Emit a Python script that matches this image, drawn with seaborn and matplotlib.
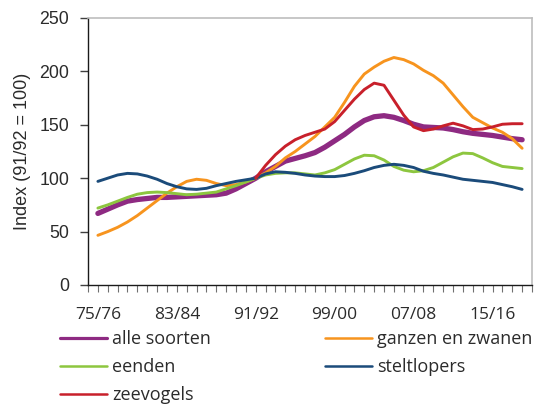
import numpy as np
import pandas as pd
import matplotlib
matplotlib.use("Agg")
import matplotlib.pyplot as plt
import seaborn as sns
from matplotlib.ticker import MultipleLocator, FixedLocator

seasons = ["75/76", "76/77", "77/78", "78/79", "79/80", "80/81", "81/82", "82/83",
           "83/84", "84/85", "85/86", "86/87", "87/88", "88/89", "89/90", "90/91",
           "91/92", "92/93", "93/94", "94/95", "95/96", "96/97", "97/98", "98/99",
           "99/00", "00/01", "01/02", "02/03", "03/04", "04/05", "05/06", "06/07",
           "07/08", "08/09", "09/10", "10/11", "11/12", "12/13", "13/14", "14/15",
           "15/16", "16/17", "17/18", "18/19"]
tick_labels = ["75/76", "83/84", "91/92", "99/00", "07/08", "15/16"]

alle_soorten = [67, 71, 75, 78.5, 80, 81, 82, 82, 82.5, 83, 83.5, 84, 84.5, 86, 90, 95, 100,
                106, 111, 116, 118.5, 121, 124, 129, 135, 141, 148, 154, 157.5, 158.5, 157,
                154, 150.5, 148, 147.5, 147, 145.5, 143.5, 142, 141, 140, 138.5, 137, 136]
ganzen_en_zwanen = [46.5, 50, 54, 59, 65, 72, 79, 86, 92, 97, 99, 98, 95, 93, 94, 96.5, 100,
                    105, 111, 119, 125, 132, 139, 148, 157, 171, 186, 197.5, 204, 209.5, 213,
                    211, 207, 201, 196, 189, 178, 167, 157, 152, 147, 143, 137, 128]
eenden = [72, 75, 78.5, 82, 85, 86.5, 87, 86.5, 85.5, 84.5, 85, 86, 87, 90, 93, 96.5, 100,
          103, 104.5, 105, 105, 104, 103, 105, 108, 113, 118, 121.5, 121, 117, 111,
          107.5, 106, 107, 110, 115, 120, 123.5, 123, 119, 114.5, 111, 110, 109]
steltlopers = [97, 100, 103, 104.5, 104, 102, 99, 95, 92, 90, 89.5, 90.5, 93, 95, 97, 98.5, 100,
               104, 106, 105.5, 104.5, 103, 102, 101.5, 101.5, 102.5, 104.5, 107, 110, 112, 113,
               112, 110, 106.5, 104.5, 103, 101, 99, 98, 97, 96, 94, 92, 89.5]
zeevogels = [np.nan] * 16 + [100,
             112, 122, 130, 136, 140, 143, 146, 153, 163.5, 174, 183, 189, 187, 173,
             159, 148, 144.5, 146, 149, 151.5, 149, 145.5, 146, 148, 150.5, 151, 151]

series_names = ["alle soorten", "ganzen en zwanen", "eenden", "steltlopers", "zeevogels"]
series_values = [alle_soorten, ganzen_en_zwanen, eenden, steltlopers, zeevogels]
colors = ["#8E2A82", "#F7941E", "#8DC63F", "#1B4B7A", "#C8202B"]
widths = [3.8, 2.1, 2.1, 2.1, 2.1]
legend_widths = [2.3, 1.8, 1.8, 1.8, 1.8]

sns.set_style("ticks")
text_color = "#2B2B2B"

fig = plt.figure(figsize=(5.39, 4.07), dpi=100)
ax = fig.add_axes([0.1633, 0.2998, 0.8237, 0.656])

idx = np.arange(len(seasons))
for name, vals, col, lw in zip(series_names, series_values, colors, widths):
    df = pd.DataFrame({"x": idx, "y": vals})
    sns.lineplot(data=df, x="x", y="y", ax=ax, color=col, linewidth=lw,
                 label=name, solid_capstyle="round")

ax.set_xlim(-1, 44)
ax.set_ylim(0, 250)
ax.yaxis.set_major_locator(MultipleLocator(50))
ax.xaxis.set_major_locator(FixedLocator([0, 8, 16, 24, 32, 40]))
ax.set_xticklabels(tick_labels)
ax.xaxis.set_minor_locator(MultipleLocator(1))
ax.set_xlabel("")
ax.set_ylabel("Index (91/92 = 100)", fontsize=13, color=text_color,
              family="Liberation Sans", labelpad=6)

for lab in ax.get_yticklabels():
    lab.set_family("Liberation Sans")
for lab in ax.get_xticklabels():
    lab.set_family("Open Sans")
ax.tick_params(axis="y", labelsize=12.8, length=6, width=1, color="#404040",
               labelcolor=text_color, pad=7.5)
ax.tick_params(axis="x", which="both", length=5, width=0.8, color="#707070",
               labelsize=12.5, labelcolor=text_color, pad=11)

for s in ["top", "right"]:
    ax.spines[s].set_color("#BDBDBD")
    ax.spines[s].set_linewidth(1.2)
for s in ["left", "bottom"]:
    ax.spines[s].set_color("#1A1A1A")
    ax.spines[s].set_linewidth(1.0)

h, l = ax.get_legend_handles_labels()
order = [0, 2, 4, 1, 3]
leg = fig.legend([h[i] for i in order], [l[i] for i in order], ncol=2,
                 loc="upper left", bbox_to_anchor=(60 / 539, 1 - 330 / 407),
                 frameon=False, borderpad=0, borderaxespad=0,
                 handlelength=2.6, handletextpad=0.28, columnspacing=6.3,
                 labelspacing=0.55, prop={"family": "Open Sans", "size": 13})
for t in leg.get_texts():
    t.set_color(text_color)
for line, i in zip(leg.get_lines(), order):
    line.set_linewidth(legend_widths[i])
ax.get_legend().remove()

fig.savefig("out.png", dpi=100)
